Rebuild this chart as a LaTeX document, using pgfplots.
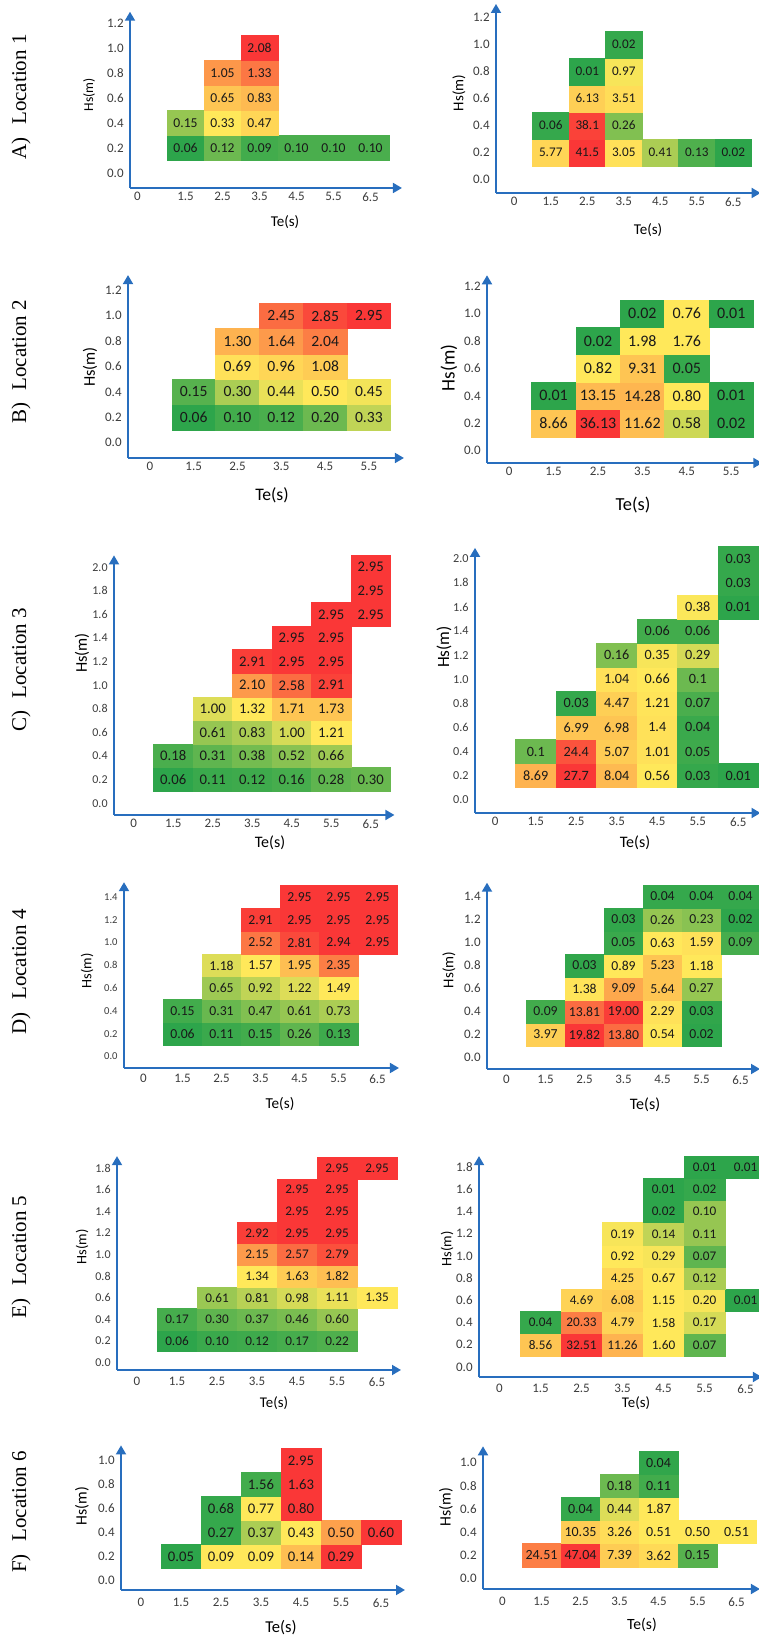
\documentclass[border=0pt]{standalone}
\usepackage{pgfplots}
\pgfplotsset{compat=1.18}
\usepackage{fontspec}
\setmainfont{Carlito}
\newfontfamily\rowfont{Liberation Serif}
\usetikzlibrary{arrows.meta}

\definecolor{axblue}{RGB}{40,110,190}
\definecolor{tickcol}{RGB}{60,60,60}
\definecolor{labcol}{RGB}{25,25,25}
% three-colour scale: green (low) -- yellow (middle) -- red (high)
\definecolor{cgreen}{RGB}{45,165,75}
\definecolor{cyellow}{RGB}{255,232,90}
\definecolor{cred}{RGB}{250,55,55}

% rectangular cell mark: half width \cellhw, half height \cellhh,
% coloured from the per-cell scale position \tval (0..1)
\def\cellhw{9pt}
\def\cellhh{6pt}
\pgfdeclareplotmark{cell}{%
  \ifdim\tval pt>0.5pt
    \pgfmathsetmacro\cellmix{200*(\tval-0.5)}%
    \colorlet{cellcol}{cred!\cellmix!cyellow}%
  \else
    \pgfmathsetmacro\cellmix{200*\tval}%
    \colorlet{cellcol}{cyellow!\cellmix!cgreen}%
  \fi
  \pgfsetfillcolor{cellcol}\pgfsetstrokecolor{cellcol}%
  \pgfpathrectanglecorners{\pgfpoint{-\cellhw}{-\cellhh}}{\pgfpoint{\cellhw}{\cellhh}}%
  \pgfusepathqfillstroke}

\pgfplotsset{
  heatbase/.style={
    scale only axis, clip=false, anchor=south west,
    axis lines=left,
    axis line style={draw=axblue, line width=0.9pt, -{Triangle[width=5pt,length=4.5pt]}},
    xmin=0,
    major tick length=0pt,
    xtick={0.5,1.5,2.5,3.5,4.5,5.5,6.5},
    xticklabels={0,1.5,2.5,3.5,4.5,5.5,6.5},
    ytick={0,0.2,...,2.0},
    yticklabel={\pgfmathprintnumber[fixed,fixed zerofill,precision=1]{\tick}},
    /pgf/number format/assume math mode=true,
    tick label style={text=tickcol, font=\fontsize{6.5}{7}\selectfont},
    xticklabel style={anchor=north, inner sep=0pt, yshift=-2pt},
    yticklabel style={anchor=east, inner sep=0pt, xshift=-3pt},
  },
  % #1 size of the cell labels (pt)
  cells/.style={
    scatter, only marks, mark=cell, line width=0.3pt,
    scatter/@pre marker code/.code={},
    scatter/@post marker code/.code={},
    visualization depends on={value \thisrow{t}\as\tval},
    visualization depends on={value \thisrow{lab}\as\cellval},
    nodes near coords={\cellval},
    every node near coord/.append style={anchor=center, inner sep=0pt,
      text=labcol, font=\fontsize{#1}{#1}\selectfont},
  },
}

\begin{document}
\begin{tikzpicture}
\useasboundingbox (0,0) rectangle (379.5pt,819pt);

% ---------------- A) Location 1 ----------------
\def\cellhw{9.25pt}\def\cellhh{6.25pt}
\begin{axis}[heatbase, at={(65pt,725pt)}, x=18.5pt, y=62.5pt,
  xmax=7.35, ymin=-0.12, ymax=1.29, xtick={0.2,1.5,2.5,3.5,4.5,5.5,6.5}]
\addplot[cells=6.8] table{
x y t lab
1.5 0.2 0.00 0.06
2.5 0.2 0.15 0.12
3.5 0.2 0.05 0.09
4.5 0.2 0.07 0.10
5.5 0.2 0.07 0.10
6.5 0.2 0.07 0.10
1.5 0.4 0.25 0.15
2.5 0.4 0.50 0.33
3.5 0.4 0.55 0.47
2.5 0.6 0.60 0.65
3.5 0.6 0.63 0.83
2.5 0.8 0.73 1.05
3.5 0.8 0.82 1.33
3.5 1.0 1.00 2.08
};
\end{axis}

\def\cellhw{9.125pt}\def\cellhh{6.75pt}
\begin{axis}[heatbase, at={(248pt,722.5pt)}, x=18.25pt, y=67.5pt,
  xmax=7.25, ymin=-0.10, ymax=1.30]
\addplot[cells=6.6] table{
x y t lab
1.5 0.2 0.55 5.77
2.5 0.2 1.00 41.5
3.5 0.2 0.52 3.05
4.5 0.2 0.30 0.41
5.5 0.2 0.08 0.13
6.5 0.2 0.00 0.02
1.5 0.4 0.02 0.06
2.5 0.4 0.97 38.1
3.5 0.4 0.20 0.26
2.5 0.6 0.57 6.13
3.5 0.6 0.53 3.51
2.5 0.8 0.00 0.01
3.5 0.8 0.48 0.97
3.5 1.0 0.02 0.02
};
\end{axis}

% ---------------- B) Location 2 ----------------
\def\cellhw{10.95pt}\def\cellhh{6.35pt}
\begin{axis}[heatbase, at={(64pt,590pt)}, x=21.9pt, y=63.5pt,
  xmax=6.3, ymin=-0.12, ymax=1.32]
\addplot[cells=7.8] table{
x y t lab
1.5 0.2 0.00 0.06
2.5 0.2 0.05 0.10
3.5 0.2 0.07 0.12
4.5 0.2 0.15 0.20
5.5 0.2 0.35 0.33
1.5 0.4 0.10 0.15
2.5 0.4 0.30 0.30
3.5 0.4 0.45 0.44
4.5 0.4 0.50 0.50
5.5 0.4 0.47 0.45
2.5 0.6 0.52 0.69
3.5 0.6 0.55 0.96
4.5 0.6 0.58 1.08
2.5 0.8 0.65 1.30
3.5 0.8 0.72 1.64
4.5 0.8 0.80 2.04
3.5 1.0 0.85 2.45
4.5 1.0 0.95 2.85
5.5 1.0 1.00 2.95
};
\end{axis}

\def\cellhw{11.1pt}\def\cellhh{6.85pt}
\begin{axis}[heatbase, at={(243.5pt,587.5pt)}, x=22.2pt, y=68.5pt,
  xmax=6.2, ymin=-0.09, ymax=1.28]
\addplot[cells=8] table{
x y t lab
1.5 0.2 0.60 8.66
2.5 0.2 1.00 36.13
3.5 0.2 0.62 11.62
4.5 0.2 0.38 0.58
5.5 0.2 0.00 0.02
1.5 0.4 0.00 0.01
2.5 0.4 0.63 13.15
3.5 0.4 0.64 14.28
4.5 0.4 0.50 0.80
5.5 0.4 0.00 0.01
2.5 0.6 0.50 0.82
3.5 0.6 0.60 9.31
4.5 0.6 0.02 0.05
2.5 0.8 0.00 0.02
3.5 0.8 0.50 1.98
4.5 0.8 0.50 1.76
3.5 1.0 0.00 0.02
4.5 1.0 0.50 0.76
5.5 1.0 0.00 0.01
};
\end{axis}

% ---------------- C) Location 3 ----------------
\def\cellhw{9.875pt}\def\cellhh{5.9pt}
\begin{axis}[heatbase, at={(57pt,411.5pt)}, x=19.75pt, y=59pt,
  xmax=7.1, ymin=-0.10, ymax=2.10,
  yticklabel style={font=\fontsize{6}{7}\selectfont}]
\addplot[cells=7.35] table{
x y t lab
1.5 0.2 0.00 0.06
2.5 0.2 0.03 0.11
3.5 0.2 0.04 0.12
4.5 0.2 0.06 0.16
5.5 0.2 0.12 0.28
6.5 0.2 0.14 0.30
1.5 0.4 0.07 0.18
2.5 0.4 0.12 0.31
3.5 0.4 0.17 0.38
4.5 0.4 0.22 0.52
5.5 0.4 0.27 0.66
2.5 0.6 0.25 0.61
3.5 0.6 0.30 0.83
4.5 0.6 0.40 1.00
5.5 0.6 0.50 1.21
2.5 0.8 0.42 1.00
3.5 0.8 0.50 1.32
4.5 0.8 0.60 1.71
5.5 0.8 0.60 1.73
3.5 1.0 0.72 2.10
4.5 1.0 0.85 2.58
5.5 1.0 0.97 2.91
3.5 1.2 0.98 2.91
4.5 1.2 1.00 2.95
5.5 1.2 1.00 2.95
4.5 1.4 1.00 2.95
5.5 1.4 1.00 2.95
5.5 1.6 1.00 2.95
6.5 1.6 1.00 2.95
6.5 1.8 1.00 2.95
6.5 2.0 1.00 2.95
};
\end{axis}

\def\cellhw{10.125pt}\def\cellhh{6.025pt}
\begin{axis}[heatbase, at={(237.5pt,412.5pt)}, x=20.25pt, y=60.25pt,
  xmax=7.05, ymin=-0.11, ymax=2.09,
  yticklabel style={font=\fontsize{6.1}{7}\selectfont}]
\addplot[cells=7.1] table{
x y t lab
1.5 0.2 0.65 8.69
2.5 0.2 1.00 27.7
3.5 0.2 0.63 8.04
4.5 0.2 0.50 0.56
5.5 0.2 0.02 0.03
6.5 0.2 0.00 0.01
1.5 0.4 0.15 0.1
2.5 0.4 0.92 24.4
3.5 0.4 0.58 5.07
4.5 0.4 0.52 1.01
5.5 0.4 0.04 0.05
2.5 0.6 0.60 6.99
3.5 0.6 0.60 6.98
4.5 0.6 0.52 1.4
5.5 0.6 0.03 0.04
2.5 0.8 0.02 0.03
3.5 0.8 0.57 4.47
4.5 0.8 0.51 1.21
5.5 0.8 0.07 0.07
3.5 1.0 0.52 1.04
4.5 1.0 0.50 0.66
5.5 1.0 0.15 0.1
3.5 1.2 0.20 0.16
4.5 1.2 0.48 0.35
5.5 1.2 0.40 0.29
4.5 1.4 0.05 0.06
5.5 1.4 0.05 0.06
5.5 1.6 0.49 0.38
6.5 1.6 0.00 0.01
6.5 1.8 0.02 0.03
6.5 2.0 0.02 0.03
};
\end{axis}

% ---------------- D) Location 4 ----------------
\def\cellhw{9.75pt}\def\cellhh{5.7pt}
\begin{axis}[heatbase, at={(62pt,285pt)}, x=19.5pt, y=57pt,
  xmax=7.05, ymin=-0.10, ymax=1.53,
  yticklabel style={font=\fontsize{5.3}{6}\selectfont},
  xticklabel style={yshift=-1pt}]
\addplot[cells=6.85] table{
x y t lab
1.5 0.2 0.00 0.06
2.5 0.2 0.03 0.11
3.5 0.2 0.05 0.15
4.5 0.2 0.12 0.26
5.5 0.2 0.04 0.13
1.5 0.4 0.05 0.15
2.5 0.4 0.14 0.31
3.5 0.4 0.20 0.47
4.5 0.4 0.25 0.61
5.5 0.4 0.30 0.73
2.5 0.6 0.27 0.65
3.5 0.6 0.35 0.92
4.5 0.6 0.42 1.22
5.5 0.6 0.50 1.49
2.5 0.8 0.42 1.18
3.5 0.8 0.50 1.57
4.5 0.8 0.62 1.95
5.5 0.8 0.80 2.35
3.5 1.0 0.82 2.52
4.5 1.0 0.95 2.81
5.5 1.0 1.00 2.94
6.5 1.0 1.00 2.95
3.5 1.2 0.98 2.91
4.5 1.2 1.00 2.95
5.5 1.2 1.00 2.95
6.5 1.2 1.00 2.95
4.5 1.4 1.00 2.95
5.5 1.4 1.00 2.95
6.5 1.4 1.00 2.95
};
\end{axis}

\def\cellhw{9.75pt}\def\cellhh{5.75pt}
\begin{axis}[heatbase, at={(243.5pt,284.5pt)}, x=19.5pt, y=57.5pt,
  xmax=7.0, ymin=-0.10, ymax=1.52,
  xticklabel style={yshift=-1pt}]
\addplot[cells=6.85] table{
x y t lab
1.5 0.2 0.57 3.97
2.5 0.2 1.00 19.82
3.5 0.2 0.85 13.80
4.5 0.2 0.50 0.54
5.5 0.2 0.00 0.02
1.5 0.4 0.05 0.09
2.5 0.4 0.85 13.81
3.5 0.4 0.98 19.00
4.5 0.4 0.52 2.29
5.5 0.4 0.01 0.03
2.5 0.6 0.51 1.38
3.5 0.6 0.68 9.09
4.5 0.6 0.60 5.64
5.5 0.6 0.25 0.27
2.5 0.8 0.01 0.03
3.5 0.8 0.50 0.89
4.5 0.8 0.60 5.23
5.5 0.8 0.50 1.18
3.5 1.0 0.03 0.05
4.5 1.0 0.50 0.63
5.5 1.0 0.52 1.59
6.5 1.0 0.06 0.09
3.5 1.2 0.01 0.03
4.5 1.2 0.25 0.26
5.5 1.2 0.22 0.23
6.5 1.2 0.00 0.02
4.5 1.4 0.02 0.04
5.5 1.4 0.02 0.04
6.5 1.4 0.02 0.04
};
\end{axis}

% ---------------- E) Location 5 ----------------
\def\cellhw{10pt}\def\cellhh{5.4pt}
\begin{axis}[heatbase, at={(58.5pt,134pt)}, x=20pt, y=54pt,
  xmax=7.1, ymin=-0.07, ymax=1.91,
  yticklabel style={font=\fontsize{6}{7}\selectfont},
  xticklabel style={yshift=-1.5pt}]
\addplot[cells=6.6] table{
x y t lab
1.5 0.2 0.00 0.06
2.5 0.2 0.03 0.10
3.5 0.2 0.04 0.12
4.5 0.2 0.06 0.17
5.5 0.2 0.08 0.22
1.5 0.4 0.06 0.17
2.5 0.4 0.12 0.30
3.5 0.4 0.15 0.37
4.5 0.4 0.18 0.46
5.5 0.4 0.25 0.60
2.5 0.6 0.26 0.61
3.5 0.6 0.33 0.81
4.5 0.6 0.40 0.98
5.5 0.6 0.45 1.11
6.5 0.6 0.50 1.35
3.5 0.8 0.50 1.34
4.5 0.8 0.58 1.63
5.5 0.8 0.62 1.82
3.5 1.0 0.72 2.15
4.5 1.0 0.85 2.57
5.5 1.0 0.93 2.79
3.5 1.2 0.98 2.92
4.5 1.2 1.00 2.95
5.5 1.2 1.00 2.95
4.5 1.4 1.00 2.95
5.5 1.4 1.00 2.95
4.5 1.6 1.00 2.95
5.5 1.6 1.00 2.95
5.5 1.8 1.00 2.95
6.5 1.8 1.00 2.95
};
\end{axis}

\def\cellhw{10.25pt}\def\cellhh{5.55pt}
\begin{axis}[heatbase, at={(239.5pt,130.5pt)}, x=20.5pt, y=55.5pt,
  xmax=6.9, ymin=-0.09, ymax=1.90,
  xticklabel style={yshift=-1.5pt}]
\addplot[cells=6.6] table{
x y t lab
1.5 0.2 0.60 8.56
2.5 0.2 1.00 32.51
3.5 0.2 0.65 11.26
4.5 0.2 0.50 1.60
5.5 0.2 0.12 0.07
1.5 0.4 0.02 0.04
2.5 0.4 0.80 20.33
3.5 0.4 0.56 4.79
4.5 0.4 0.50 1.58
5.5 0.4 0.40 0.17
2.5 0.6 0.56 4.69
3.5 0.6 0.58 6.08
4.5 0.6 0.50 1.15
5.5 0.6 0.48 0.20
6.5 0.6 0.00 0.01
3.5 0.8 0.55 4.25
4.5 0.8 0.50 0.67
5.5 0.8 0.30 0.12
3.5 1.0 0.50 0.92
4.5 1.0 0.48 0.29
5.5 1.0 0.12 0.07
3.5 1.2 0.48 0.19
4.5 1.2 0.35 0.14
5.5 1.2 0.25 0.11
4.5 1.4 0.00 0.02
5.5 1.4 0.25 0.10
4.5 1.6 0.00 0.01
5.5 1.6 0.02 0.02
5.5 1.8 0.00 0.01
6.5 1.8 0.00 0.01
};
\end{axis}

% ---------------- F) Location 6 ----------------
\def\cellhw{10pt}\def\cellhh{6pt}
\begin{axis}[heatbase, at={(60.5pt,24pt)}, x=20pt, y=60pt,
  xmax=7.1, ymin=-0.08, ymax=1.125,
  xticklabel style={yshift=-2pt}]
\addplot[cells=7.35] table{
x y t lab
1.5 0.2 0.00 0.05
2.5 0.2 0.50 0.09
3.5 0.2 0.50 0.09
4.5 0.2 0.62 0.14
5.5 0.2 1.00 0.29
2.5 0.4 0.02 0.27
3.5 0.4 0.30 0.37
4.5 0.4 0.50 0.43
5.5 0.4 0.70 0.50
6.5 0.4 1.00 0.60
2.5 0.6 0.02 0.68
3.5 0.6 0.50 0.77
4.5 0.6 1.00 0.80
3.5 0.8 0.05 1.56
4.5 0.8 1.00 1.63
4.5 1.0 1.00 2.95
};
\end{axis}

\def\cellhw{9.75pt}\def\cellhh{5.8pt}
\begin{axis}[heatbase, at={(241.5pt,24.5pt)}, x=19.5pt, y=58pt,
  xmax=7.1, ymin=-0.09, ymax=1.14,
  xticklabel style={yshift=-2pt}]
\addplot[cells=7] table{
x y t lab
1.5 0.2 0.80 24.51
2.5 0.2 1.00 47.04
3.5 0.2 0.58 7.39
4.5 0.2 0.54 3.62
5.5 0.2 0.10 0.15
2.5 0.4 0.58 10.35
3.5 0.4 0.53 3.26
4.5 0.4 0.50 0.51
5.5 0.4 0.50 0.50
6.5 0.4 0.50 0.51
2.5 0.6 0.02 0.04
3.5 0.6 0.42 0.44
4.5 0.6 0.50 1.87
3.5 0.8 0.15 0.18
4.5 0.8 0.05 0.11
4.5 1.0 0.01 0.04
};
\end{axis}

% ---------------- labels ----------------
\begin{scope}[x=0.5pt, y=-0.5pt, shift={(0pt,819pt)}]
  \tikzset{rowlab/.style={rotate=90, font=\rowfont\fontsize{10.5}{12}\selectfont},
           hs/.style={rotate=90, font=\fontsize{#1}{#1}\selectfont},
           te/.style={font=\fontsize{#1}{#1}\selectfont}}
  \node[rowlab] at (21,97)   {A)\hspace{0.6em}Location 1};
  \node[rowlab] at (21,362)  {B)\hspace{0.6em}Location 2};
  \node[rowlab] at (21,670)  {C)\hspace{0.6em}Location 3};
  \node[rowlab] at (21,972)  {D)\hspace{0.6em}Location 4};
  \node[rowlab] at (21,1257) {E)\hspace{0.6em}Location 5};
  \node[rowlab] at (21,1512) {F)\hspace{0.6em}Location 6};

  \node[hs=6.8] at (89,95)    {Hs(m)};
  \node[hs=7.5] at (459,93)   {Hs(m)};
  \node[hs=8.2] at (90,367)   {Hs(m)};
  \node[hs=9.6] at (449,368)  {Hs(m)};
  \node[hs=8.2] at (82,653)   {Hs(m)};
  \node[hs=8.6] at (444,647)  {Hs(m)};
  \node[hs=7.2] at (87,971)   {Hs(m)};
  \node[hs=7.5] at (449,970)  {Hs(m)};
  \node[hs=7.2] at (82,1247)  {Hs(m)};
  \node[hs=7.2] at (447,1249) {Hs(m)};
  \node[hs=7.9] at (82,1506)  {Hs(m)};
  \node[hs=7.9] at (446,1507) {Hs(m)};

  \node[te=7.5] at (285,222)  {Te(s)};
  \node[te=7.5] at (648,230)  {Te(s)};
  \node[te=8.8] at (272,495)  {Te(s)};
  \node[te=9.2] at (633,505)  {Te(s)};
  \node[te=8]   at (270,843)  {Te(s)};
  \node[te=8]   at (635,843)  {Te(s)};
  \node[te=7.6] at (280,1104) {Te(s)};
  \node[te=8]   at (645,1105) {Te(s)};
  \node[te=7.4] at (274,1403) {Te(s)};
  \node[te=7.4] at (636,1403) {Te(s)};
  \node[te=8.3] at (281,1628) {Te(s)};
  \node[te=7.8] at (642,1625) {Te(s)};
\end{scope}
\end{tikzpicture}
\end{document}
